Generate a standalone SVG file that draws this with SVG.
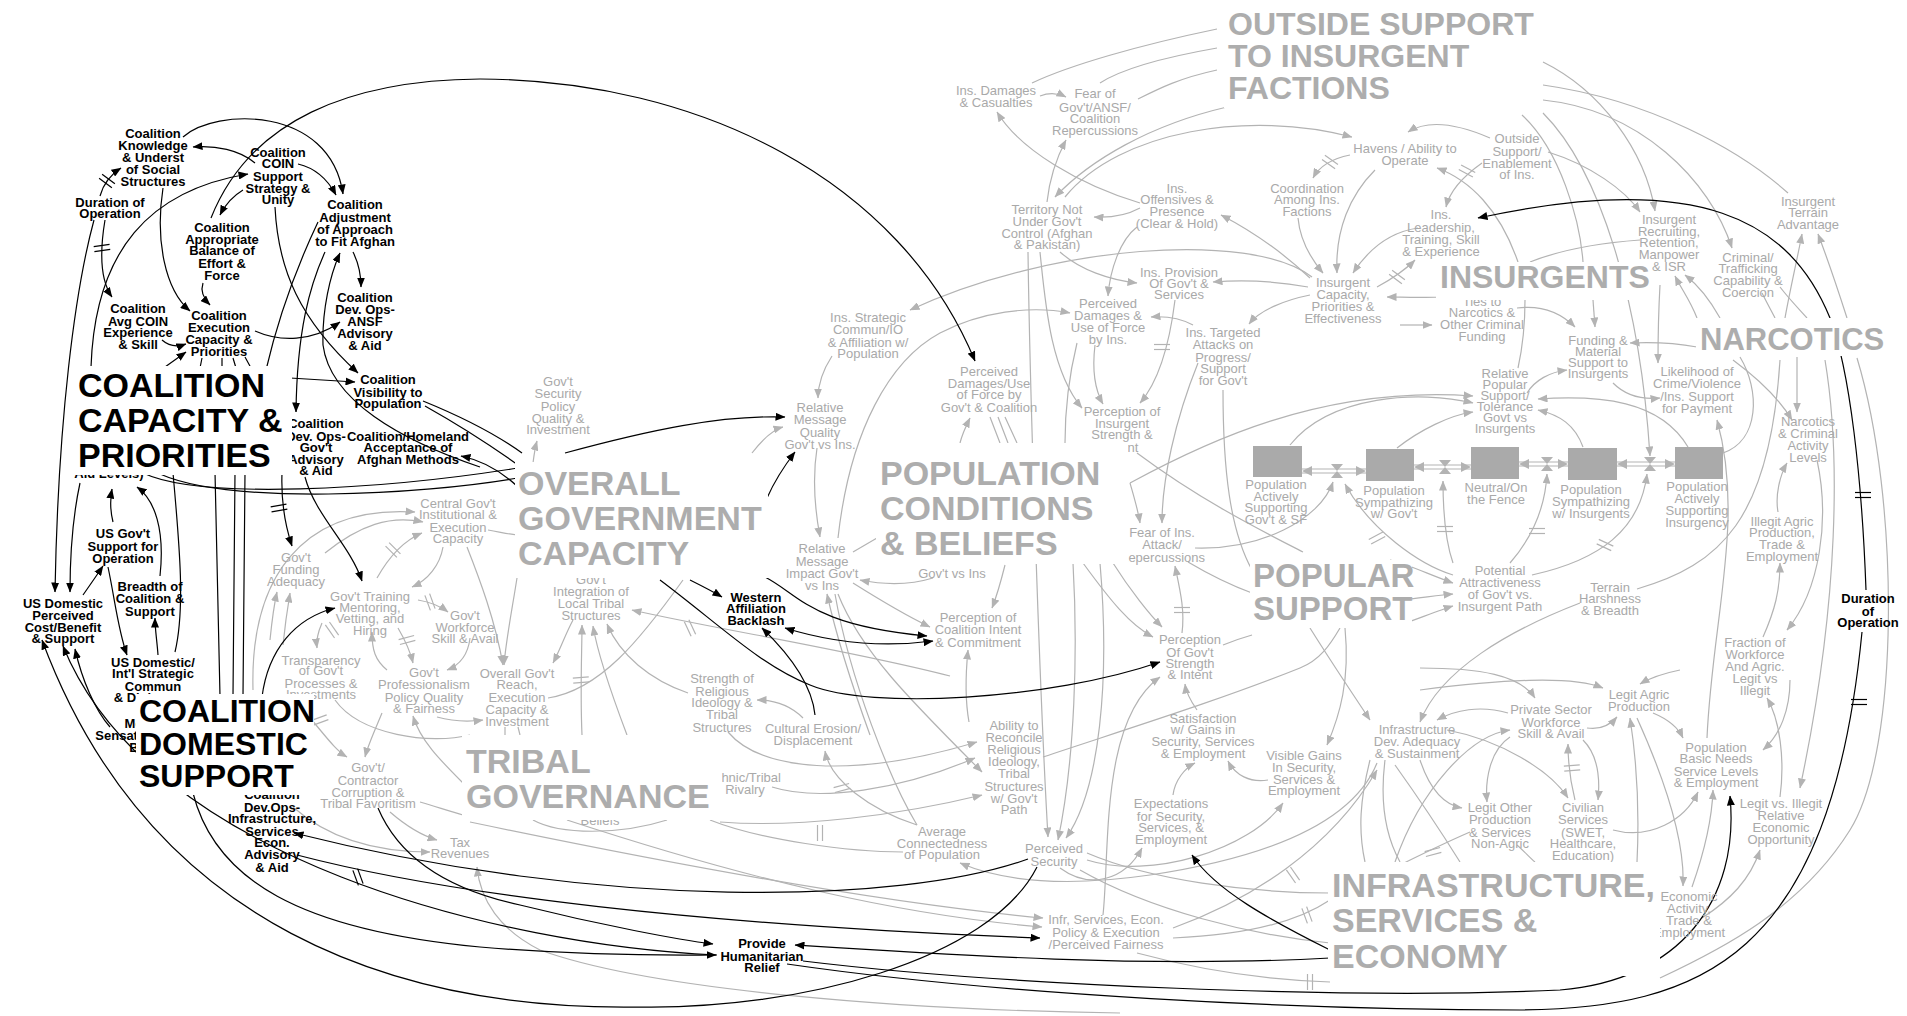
<svg xmlns="http://www.w3.org/2000/svg" width="1907" height="1016" viewBox="0 0 1907 1016">
<defs>
<style>
text{font-family:"Liberation Sans",Arial,Helvetica,sans-serif}
.n{font-size:13px;fill:#a9a9a9;text-anchor:middle}
.b{font-size:13px;font-weight:bold;fill:#000;text-anchor:middle}
.tk{font-weight:bold;fill:#000}
.tg{font-weight:bold;fill:#adadad}
.g{fill:none;stroke:#b3b3b3;stroke-width:1.2}
.k{fill:none;stroke:#000;stroke-width:1.2}
.ga{marker-end:url(#ag)}
.ka{marker-end:url(#ak)}
.ks{marker-start:url(#ak)}
.hg{stroke:#b3b3b3;stroke-width:1.2}
.hk{stroke:#000;stroke-width:1.2}
.box{fill:#fff}
.stock{fill:#aaaaaa}
.pipe{stroke:#b3b3b3;stroke-width:1.2}
</style>
<marker id="ag" viewBox="0 0 10 8" refX="9.5" refY="4" markerWidth="10" markerHeight="8" markerUnits="userSpaceOnUse" orient="auto-start-reverse"><path d="M0,0L10,4L0,8z" fill="#b3b3b3"/></marker>
<marker id="ak" viewBox="0 0 10 8" refX="9.5" refY="4" markerWidth="10" markerHeight="8" markerUnits="userSpaceOnUse" orient="auto-start-reverse"><path d="M0,0L10,4L0,8z" fill="#000"/></marker>
<g id="hs"><line x1="-8" y1="-2.5" x2="8" y2="-2.5"/><line x1="-8" y1="2.5" x2="8" y2="2.5"/></g>
</defs>
<rect width="1907" height="1016" fill="#fff"/>

<g id="connectors">
<g id="grey-links">
<path class="g" d="M1217,29 C1140,45 1070,65 1032,83"/>
<path class="g" d="M1217,48 C1160,58 1120,70 1100,83"/>
<path class="g" d="M1217,70 C1180,78 1160,88 1138,99"/>
<path class="g ga" d="M1227,107 C1150,125 1090,160 1055,197"/>
<path class="g ga" d="M1065,197 C1120,130 1250,110 1352,137"/>
<path class="g ga" d="M1040,96 C1050,92 1058,93 1066,97"/>
<path class="g ga" d="M1047,202 C1050,175 1058,155 1066,140"/>
<path class="g ga" d="M1140,203 C1080,185 1020,150 997,112"/>
<path class="g ga" d="M1140,208 C1125,216 1110,218 1094,217"/>
<path class="g ga" d="M1350,155 C1335,158 1320,165 1313,178"/>
<path class="g ga" d="M1375,170 C1350,195 1335,230 1337,273"/>
<path class="g ga" d="M1298,218 C1300,240 1312,260 1323,273"/>
<path class="g ga" d="M1310,278 C1280,250 1250,230 1221,215"/>
<path class="g ga" d="M1308,287 C1270,280 1240,280 1213,282"/>
<path class="g ga" d="M1310,295 C1285,300 1260,310 1249,324"/>
<path class="g ga" d="M1060,252 C1080,270 1110,280 1137,283"/>
<path class="g ga" d="M1137,227 C1120,240 1110,270 1108,296"/>
<path class="g ga" d="M1193,325 C1180,318 1165,316 1151,317"/>
<path class="g ga" d="M1312,277 C1250,230 1050,245 910,310"/>
<path class="g ga" d="M838,538 C850,430 890,360 940,333 C980,312 1030,305 1070,313"/>
<path class="g ga" d="M1418,228 C1390,232 1368,250 1353,273"/>
<path class="g ga" d="M1377,287 C1390,280 1405,270 1415,260"/>
<path class="g ga" d="M1440,297 C1420,298 1400,297 1387,297"/>
<path class="g ga" d="M1482,163 C1465,175 1450,190 1446,207"/>
<path class="g ga" d="M1490,138 C1460,125 1430,118 1408,132"/>
<path class="g ga" d="M1548,152 C1590,165 1625,190 1640,212"/>
<path class="g ga" d="M1543,62 C1600,90 1645,150 1655,211"/>
<path class="g" d="M1543,85 C1650,100 1740,150 1788,193"/>
<path class="g ga" d="M1543,100 C1640,110 1710,180 1732,248"/>
<path class="g" d="M1522,115 C1560,150 1580,220 1583,262"/>
<path class="g ga" d="M1543,113 C1600,170 1640,300 1650,456"/>
<path class="g ga" d="M1518,262 C1500,210 1470,180 1437,168"/>
<path class="g" d="M1640,240 C1600,243 1560,250 1530,262"/>
<path class="g ga" d="M1785,318 C1790,290 1797,260 1802,234"/>
<path class="g ga" d="M1847,318 C1838,290 1828,260 1818,234"/>
<path class="g ga" d="M1697,318 C1690,300 1682,290 1675,276"/>
<path class="g ga" d="M1720,318 C1710,300 1698,285 1685,275"/>
<path class="g" d="M1780,287 C1790,300 1800,310 1807,318"/>
<path class="g" d="M1762,293 C1768,305 1772,312 1775,318"/>
<path class="g ga" d="M1517,308 C1540,305 1560,312 1575,327"/>
<path class="g ga" d="M1593,300 L1595,327"/>
<path class="g ga" d="M1400,325 L1432,325"/>
<path class="g" d="M1525,300 C1525,330 1522,350 1518,368"/>
<path class="g ga" d="M1697,347 C1670,342 1650,342 1630,343"/>
<path class="g ga" d="M1527,393 C1535,380 1550,372 1567,370"/>
<path class="g ga" d="M1613,383 C1625,395 1640,400 1660,398"/>
<path class="g ga" d="M1688,447 C1660,400 1600,395 1538,399"/>
<path class="g ga" d="M1583,447 C1575,425 1560,415 1538,410"/>
<path class="g" d="M1723,453 C1760,440 1760,390 1740,357"/>
<path class="g ga" d="M1660,285 C1658,320 1658,340 1658,363"/>
<path class="g ga" d="M1707,738 C1712,620 1745,520 1717,420"/>
<path class="g ga" d="M1733,360 C1760,380 1780,400 1792,420"/>
<path class="g ga" d="M1797,357 L1797,412"/>
<path class="g ga" d="M1778,512 C1775,495 1780,475 1787,463"/>
<path class="g ga" d="M1817,460 C1830,520 1820,590 1787,630"/>
<path class="g ga" d="M1763,637 C1775,610 1780,590 1780,563"/>
<path class="g" d="M1637,589 C1720,565 1770,520 1780,360"/>
<path class="g ga" d="M1580,603 C1510,630 1440,670 1420,722"/>
<path class="g ga" d="M1453,563 C1445,540 1443,510 1443,481"/>
<path class="g ga" d="M1510,563 C1530,540 1545,510 1547,474"/>
<path class="g ga" d="M1532,575 C1600,560 1640,530 1647,474"/>
<path class="g ga" d="M1453,575 C1420,565 1370,530 1345,484"/>
<path class="g ga" d="M1390,560 C1410,565 1430,575 1453,583"/>
<path class="g ga" d="M1400,600 C1420,598 1440,595 1453,594"/>
<path class="g ga" d="M1400,625 C1420,618 1440,610 1453,606"/>
<path class="g ga" d="M1195,548 C1260,550 1320,520 1333,482"/>
<path class="g ga" d="M1290,445 C1330,395 1420,390 1473,403"/>
<path class="g ga" d="M1397,448 C1420,430 1450,415 1473,412"/>
<path class="g ga" d="M1130,483 C1200,445 1320,385 1473,396"/>
<path class="g" d="M1137,453 C1200,500 1260,530 1303,552"/>
<path class="g" d="M1223,390 C1223,470 1230,530 1252,570"/>
<path class="g" d="M1188,562 C1210,575 1230,585 1252,593"/>
<path class="g ga" d="M1182,633 C1185,610 1180,590 1175,566"/>
<path class="g ga" d="M1113,563 C1130,590 1150,615 1162,627"/>
<path class="g ga" d="M1083,563 C1110,600 1130,625 1153,637"/>
<path class="g" d="M1223,645 C1235,640 1245,637 1252,635"/>
<path class="g ga" d="M1095,345 C1092,370 1095,390 1103,404"/>
<path class="g ga" d="M1040,252 C1045,300 1050,370 1082,408"/>
<path class="g ga" d="M1028,252 C1030,400 1040,700 1048,837"/>
<path class="g ga" d="M1073,563 C1078,650 1075,760 1058,840"/>
<path class="g ga" d="M1100,563 C1110,680 1100,790 1066,838"/>
<path class="g ga" d="M1175,300 C1170,340 1160,380 1140,403"/>
<path class="g ga" d="M1198,363 C1175,420 1162,480 1162,523"/>
<path class="g ga" d="M1130,483 C1135,500 1138,510 1140,523"/>
<path class="g ga" d="M960,443 C962,435 965,428 970,418"/>
<path class="g" d="M990,417 L1000,443 M998,417 L1008,443 M1005,417 L1017,443"/>
<path class="g ga" d="M969,722 C965,700 966,670 968,650"/>
<path class="g ga" d="M1005,565 C1000,585 996,598 992,608"/>
<path class="g" d="M1077,343 C1068,380 1065,410 1065,443"/>
<path class="g" d="M1087,853 C1150,880 1250,893 1330,893"/>
<path class="g ga" d="M1060,868 C1090,890 1125,880 1142,848"/>
<path class="g" d="M1080,870 C1150,910 1250,935 1330,943"/>
<path class="g ga" d="M1173,795 C1175,780 1185,768 1195,763"/>
<path class="g ga" d="M1268,780 C1250,783 1235,775 1228,761"/>
<path class="g ga" d="M1197,710 C1190,700 1186,692 1185,684"/>
<path class="g ga" d="M1345,628 C1350,680 1340,715 1327,745"/>
<path class="g ga" d="M1310,628 C1330,660 1350,690 1370,720"/>
<path class="g ga" d="M1173,928 C1250,900 1330,850 1377,770"/>
<path class="g" d="M1173,938 C1250,935 1300,920 1330,900"/>
<path class="g ga" d="M1103,915 C1110,850 1100,720 1160,677"/>
<path class="g" d="M1137,953 C1200,970 1270,980 1330,982"/>
<path class="g ga" d="M470,822 C700,870 900,905 1043,918"/>
<path class="g ga" d="M567,820 C750,880 900,915 1042,927"/>
<path class="g" d="M1043,757 C1130,728 1220,700 1300,668 C1320,660 1330,645 1340,628"/>
<path class="g ga" d="M728,732 C760,770 850,780 977,742"/>
<path class="g ga" d="M772,787 C820,802 900,790 975,758"/>
<path class="g ga" d="M720,822 C800,828 900,815 982,795"/>
<path class="g ga" d="M838,594 C860,650 910,700 982,772"/>
<path class="g ga" d="M1377,763 C1350,830 1250,860 1150,875 C1060,888 1000,880 960,863"/>
<path class="g ga" d="M1087,860 C1150,880 1250,850 1283,803"/>
<path class="g" d="M835,594 C850,680 890,780 917,825"/>
<path class="g ga" d="M917,825 C870,810 830,780 825,751"/>
<path class="g ga" d="M803,718 C790,705 775,700 757,700"/>
<path class="g ga" d="M688,693 C650,680 620,655 607,624"/>
<path class="g ga" d="M950,676 C850,650 720,630 632,610"/>
<path class="g" d="M710,820 C760,840 850,852 903,852"/>
<path class="g" d="M533,820 C560,835 620,835 667,820"/>
<path class="g ga" d="M1120,1013 C900,1010 650,990 540,950 C500,930 480,900 477,867"/>
<path class="g ga" d="M390,812 C405,825 420,835 437,840"/>
<path class="g" d="M420,802 C440,808 452,812 463,815"/>
<path class="g ga" d="M293,807 C330,840 380,852 430,852"/>
<path class="g ga" d="M305,712 C325,735 335,750 347,757"/>
<path class="g ga" d="M382,713 C375,730 368,745 365,757"/>
<path class="g" d="M335,700 C360,735 430,745 470,735"/>
<path class="g ga" d="M463,783 C440,760 420,740 413,716"/>
<path class="g ga" d="M437,717 C455,722 468,722 483,720"/>
<path class="g ga" d="M325,553 C360,525 390,515 423,522"/>
<path class="g ga" d="M253,690 C250,580 300,505 415,512"/>
<path class="g ga" d="M377,578 C390,555 405,540 422,533"/>
<path class="g ga" d="M443,547 C440,565 428,580 412,587"/>
<path class="g ga" d="M418,600 C430,602 440,606 448,612"/>
<path class="g ga" d="M322,623 C318,632 316,640 317,648"/>
<path class="g ga" d="M398,628 C405,640 410,650 413,663"/>
<path class="g ga" d="M470,638 C468,655 460,665 447,670"/>
<path class="g ga" d="M387,670 C375,660 372,650 372,632"/>
<path class="g ga" d="M270,640 C272,620 274,605 277,592"/>
<path class="g ga" d="M283,645 C285,625 288,605 290,593"/>
<path class="g ga" d="M467,547 C480,580 495,620 503,665"/>
<path class="g" d="M488,530 C500,532 508,534 517,535"/>
<path class="g ga" d="M517,578 C512,610 506,640 504,665"/>
<path class="g ga" d="M533,463 C534,455 535,448 537,441"/>
<path class="g ga" d="M573,620 C565,635 560,650 553,663"/>
<path class="g" d="M548,698 C600,690 640,640 683,580"/>
<path class="g ga" d="M582,735 C580,690 582,650 582,625"/>
<path class="g ga" d="M627,735 C610,690 597,650 593,626"/>
<path class="g" d="M505,727 L505,735 M518,727 L520,735"/>
<path class="g ga" d="M832,356 C823,370 818,385 818,398"/>
<path class="g ga" d="M752,453 C762,440 772,430 783,427"/>
<path class="g ga" d="M817,448 C812,480 815,510 820,537"/>
<path class="g" d="M853,552 L877,538"/>
<path class="g ga" d="M933,578 C910,585 885,585 860,580"/>
<path class="g ga" d="M853,583 C880,600 905,615 930,627"/>
<path class="g ga" d="M870,735 C850,680 835,630 827,594"/>
<path class="g ga" d="M1825,360 C1840,450 1840,600 1800,788"/>
<path class="g" d="M1857,358 C1900,500 1900,750 1850,830 C1800,910 1720,950 1660,978"/>
<path class="g ga" d="M1790,680 C1790,710 1780,735 1763,750"/>
<path class="g ga" d="M1780,797 C1785,760 1780,720 1767,698"/>
<path class="g ga" d="M1702,918 C1730,900 1750,880 1760,850"/>
<path class="g ga" d="M1692,887 C1705,850 1712,820 1713,790"/>
<path class="g ga" d="M1637,718 C1665,780 1685,840 1683,886"/>
<path class="g ga" d="M1653,713 C1665,718 1677,725 1683,738"/>
<path class="g ga" d="M1613,830 C1650,840 1685,820 1698,792"/>
<path class="g ga" d="M1587,728 C1600,730 1610,725 1617,717"/>
<path class="g ga" d="M1583,740 C1598,755 1600,780 1598,800"/>
<path class="g ga" d="M1575,800 C1570,780 1568,760 1568,744"/>
<path class="g ga" d="M1510,737 C1490,750 1485,780 1487,802"/>
<path class="g ga" d="M1508,713 C1480,705 1455,710 1437,720"/>
<path class="g ga" d="M1447,730 C1500,740 1550,770 1568,798"/>
<path class="g ga" d="M1420,760 C1430,790 1445,805 1462,808"/>
<path class="g ga" d="M1395,862 C1420,790 1470,735 1510,730"/>
<path class="g ga" d="M1420,668 C1480,668 1520,675 1535,698"/>
<path class="g ga" d="M1420,690 C1500,680 1570,675 1603,688"/>
<path class="g ga" d="M1637,862 C1640,800 1635,750 1630,718"/>
<path class="g ga" d="M1680,670 C1665,673 1650,678 1640,684"/>
<path class="g" d="M1517,845 C1525,852 1530,858 1535,862"/>
<path class="g" d="M1370,760 C1360,800 1358,830 1365,862 M1385,760 C1380,800 1385,835 1400,862"/>
<path class="g" d="M1395,765 C1420,800 1440,830 1460,862"/>
<path class="g" d="M1390,870 C1420,855 1440,845 1470,832"/>
</g>
<g id="black-links">
<path class="k ka" d="M183,137 C215,108 330,105 343,194"/>
<path class="k ka" d="M255,163 C240,150 215,145 193,147"/>
<path class="k ka" d="M298,164 C315,168 328,180 336,195"/>
<path class="k ka" d="M100,196 C103,185 110,175 121,168"/>
<path class="k ka" d="M91,367 C95,250 150,190 248,174"/>
<path class="k ka" d="M94,220 C75,290 58,420 55,592"/>
<path class="k ka" d="M105,220 C100,250 100,280 112,297"/>
<path class="k ka" d="M243,190 C233,196 225,205 220,215"/>
<path class="k ka" d="M203,283 C200,292 205,300 210,305"/>
<path class="k ka" d="M163,188 C155,240 165,290 190,311"/>
<path class="k ka" d="M211,218 C250,120 350,80 480,79 C700,80 900,180 975,361"/>
<path class="k ka" d="M255,331 C280,342 312,342 340,322"/>
<path class="k ka" d="M353,252 C358,262 361,275 361,287"/>
<path class="k ka" d="M480,467 C400,440 330,400 323,345 C322,310 330,275 340,253"/>
<path class="k" d="M318,222 C300,260 280,310 266,370"/>
<path class="k ka" d="M325,252 C310,285 297,330 296,412"/>
<path class="k ka" d="M275,207 C278,270 300,320 358,373"/>
<path class="k ka" d="M290,378 L355,382"/>
<path class="k" d="M423,401 C450,412 490,430 522,453"/>
<path class="k" d="M425,406 C450,420 490,445 518,465"/>
<path class="k" d="M143,473 C200,500 380,490 518,468"/>
<path class="k" d="M160,474 C230,505 420,495 518,478"/>
<path class="k ka" d="M518,487 C500,470 480,460 461,456"/>
<path class="k ka" d="M305,477 C315,515 350,545 362,581"/>
<path class="k ka" d="M282,473 C281,500 285,525 292,546"/>
<path class="k" d="M215,472 L220,696 M235,472 L233,696 M245,472 L243,696"/>
<path class="k" d="M173,473 C180,550 185,610 175,652"/>
<path class="k ka" d="M113,522 C110,510 110,500 112,489"/>
<path class="k ka" d="M160,576 C165,530 155,500 137,487"/>
<path class="k ka" d="M80,483 C72,520 70,560 70,592"/>
<path class="k ka" d="M83,595 C90,585 97,575 103,566"/>
<path class="k ka" d="M108,567 C115,600 118,630 127,655"/>
<path class="k ka" d="M158,655 C157,640 155,630 155,618"/>
<path class="k ka" d="M1037,867 C990,960 800,1010 637,1007 C400,1010 150,930 42,640"/>
<path class="k ka" d="M717,955 C500,945 150,860 63,646"/>
<path class="k ka" d="M110,727 C95,710 82,680 75,649"/>
<path class="k ka" d="M193,793 C215,880 300,930 480,947 C600,957 680,955 716,955"/>
<path class="k ka" d="M378,808 C400,860 450,890 520,905 C600,925 680,940 713,944"/>
<path class="k ka" d="M297,855 C450,895 700,925 1040,938"/>
<path class="k ka" d="M1028,859 C900,905 600,910 294,833"/>
<path class="k ka" d="M1330,958 C1150,968 950,955 795,945"/>
<path class="k ka" d="M803,961 C1000,985 1350,1000 1560,990 C1680,980 1740,900 1730,796"/>
<path class="k" d="M787,964 C1000,995 1300,1010 1520,1010 C1700,1008 1830,960 1862,632"/>
<path class="k ka" d="M1866,590 C1862,480 1850,370 1830,318 C1790,220 1700,170 1478,218"/>
<path class="k ka" d="M1330,950 C1270,920 1215,890 1192,855"/>
<path class="k ka" d="M262,697 C268,650 295,618 335,608"/>
<path class="k ka" d="M565,453 C650,430 720,415 785,417"/>
<path class="k ka" d="M767,498 C775,480 785,465 795,452"/>
<path class="k ka" d="M690,580 C700,585 712,591 722,597"/>
<path class="k ka" d="M765,577 C800,595 810,625 927,636"/>
<path class="k ka ks" d="M785,628 C830,642 880,648 933,641"/>
<path class="k ka" d="M815,715 C812,685 790,655 762,628"/>
<path class="k ka" d="M660,580 C720,625 760,665 810,685 C870,710 1050,700 1160,662"/>
<path class="k ka" d="M162,340 C170,347 178,347 186,344"/>
<path class="k ka" d="M165,367 L186,352"/>
<path class="k" d="M202,358 L200,368 M222,358 L222,368 M233,358 L236,368 M245,357 L251,368"/>
</g>
<g id="delay-marks">
<use href="#hs" class="hk" transform="translate(107,181) rotate(37)"/>
<use href="#hs" class="hk" transform="translate(102,248) rotate(-8)"/>
<use href="#hs" class="hk" transform="translate(279,508) rotate(-10)"/>
<use href="#hs" class="hk" transform="translate(358,877) rotate(70)"/>
<use href="#hs" class="hk" transform="translate(1863,495) rotate(0)"/>
<use href="#hs" class="hk" transform="translate(1859,702) rotate(0)"/>
<use href="#hs" class="hg" transform="translate(1330,162) rotate(35)"/>
<use href="#hs" class="hg" transform="translate(1397,277) rotate(37)"/>
<use href="#hs" class="hg" transform="translate(1467,171) rotate(28)"/>
<use href="#hs" class="hg" transform="translate(1162,347) rotate(0)"/>
<use href="#hs" class="hg" transform="translate(1182,610) rotate(0)"/>
<use href="#hs" class="hg" transform="translate(1445,529) rotate(0)"/>
<use href="#hs" class="hg" transform="translate(1537,531) rotate(0)"/>
<use href="#hs" class="hg" transform="translate(1605,545) rotate(25)"/>
<use href="#hs" class="hg" transform="translate(1377,538) rotate(-28)"/>
<use href="#hs" class="hg" transform="translate(1293,875) rotate(55)"/>
<use href="#hs" class="hg" transform="translate(1307,915) rotate(70)"/>
<use href="#hs" class="hg" transform="translate(1310,982) rotate(90)"/>
<use href="#hs" class="hg" transform="translate(842,788) rotate(-15)"/>
<use href="#hs" class="hg" transform="translate(820,833) rotate(90)"/>
<use href="#hs" class="hg" transform="translate(393,550) rotate(45)"/>
<use href="#hs" class="hg" transform="translate(430,602) rotate(70)"/>
<use href="#hs" class="hg" transform="translate(332,630) rotate(55)"/>
<use href="#hs" class="hg" transform="translate(407,640) rotate(-15)"/>
<use href="#hs" class="hg" transform="translate(320,720) rotate(-20)"/>
<use href="#hs" class="hg" transform="translate(1572,768) rotate(-5)"/>
<use href="#hs" class="hg" transform="translate(1433,852) rotate(-15)"/>
<use href="#hs" class="hg" transform="translate(690,628) rotate(65)"/>
<use href="#hs" class="hg" transform="translate(581,680) rotate(-5)"/>
</g>
<g id="flows">
<line class="pipe" x1="1302" y1="469" x2="1366" y2="469"/><line class="pipe" x1="1302" y1="473" x2="1366" y2="473"/>
<line class="pipe" x1="1414" y1="465" x2="1471" y2="465"/><line class="pipe" x1="1414" y1="469" x2="1471" y2="469"/>
<line class="pipe" x1="1519" y1="462" x2="1568" y2="462"/><line class="pipe" x1="1519" y1="466" x2="1568" y2="466"/>
<line class="pipe" x1="1617" y1="462" x2="1675" y2="462"/><line class="pipe" x1="1617" y1="466" x2="1675" y2="466"/>
<g fill="#b3b3b3">
<path d="M1302,471 l10,-5 v10z M1366,471 l-10,-5 v10z M1337,471 l-6,-7 h12z M1337,471 l-6,7 h12z"/>
<path d="M1414,467 l10,-5 v10z M1471,467 l-10,-5 v10z M1445,467 l-6,-7 h12z M1445,467 l-6,7 h12z"/>
<path d="M1519,464 l10,-5 v10z M1568,464 l-10,-5 v10z M1547,464 l-6,-7 h12z M1547,464 l-6,7 h12z"/>
<path d="M1617,464 l10,-5 v10z M1675,464 l-10,-5 v10z M1650,464 l-6,-7 h12z M1650,464 l-6,7 h12z"/>
</g>
</g>
</g>

<g id="stocks">
<rect class="stock" x="1253" y="446" width="49" height="31"/>
<rect class="stock" x="1366" y="449" width="48" height="32"/>
<rect class="stock" x="1471" y="447" width="48" height="32"/>
<rect class="stock" x="1568" y="448" width="49" height="32"/>
<rect class="stock" x="1675" y="447" width="48" height="32"/>
</g>

<g id="nodes">
<g id="n-knowledge"><text class="b"><tspan x="153" y="138">Coalition</tspan><tspan x="153" y="150">Knowledge</tspan><tspan x="153" y="162">&amp; Underst</tspan><tspan x="153" y="174">of Social</tspan><tspan x="153" y="186">Structures</tspan></text></g>
<g id="n-coin"><text class="b"><tspan x="278" y="157">Coalition</tspan><tspan x="278" y="168">COIN</tspan><tspan x="278" y="181">Support</tspan><tspan x="278" y="193">Strategy &amp;</tspan><tspan x="278" y="204">Unity</tspan></text></g>
<g id="n-duration1"><text class="b"><tspan x="110" y="207">Duration of</tspan><tspan x="110" y="218">Operation</tspan></text></g>
<g id="n-adjust"><text class="b"><tspan x="355" y="209">Coalition</tspan><tspan x="355" y="222">Adjustment</tspan><tspan x="355" y="234">of Approach</tspan><tspan x="355" y="246">to Fit Afghan</tspan></text></g>
<g id="n-balance"><text class="b"><tspan x="222" y="232">Coalition</tspan><tspan x="222" y="244">Appropriate</tspan><tspan x="222" y="255">Balance of</tspan><tspan x="222" y="268">Effort &amp;</tspan><tspan x="222" y="280">Force</tspan></text></g>
<g id="n-ansf"><text class="b"><tspan x="365" y="302">Coalition</tspan><tspan x="365" y="314">Dev. Ops-</tspan><tspan x="365" y="326">ANSF</tspan><tspan x="365" y="338">Advisory</tspan><tspan x="365" y="350">&amp; Aid</tspan></text></g>
<g id="n-avgcoin"><text class="b"><tspan x="138" y="313">Coalition</tspan><tspan x="138" y="326">Avg COIN</tspan><tspan x="138" y="337">Experience</tspan><tspan x="138" y="349">&amp; Skill</tspan></text></g>
<g id="n-execution"><text class="b"><tspan x="219" y="320">Coalition</tspan><tspan x="219" y="332">Execution</tspan><tspan x="219" y="344">Capacity &amp;</tspan><tspan x="219" y="356">Priorities</tspan></text></g>
<g id="n-visibility"><text class="b"><tspan x="388" y="384">Coalition</tspan><tspan x="388" y="397">Visibility to</tspan><tspan x="388" y="408">Population</tspan></text></g>
<g id="n-govadvisory"><text class="b"><tspan x="316" y="428">Coalition</tspan><tspan x="316" y="441">Dev. Ops-</tspan><tspan x="316" y="452">Gov't</tspan><tspan x="316" y="464">Advisory</tspan><tspan x="316" y="475">&amp; Aid</tspan></text></g>
<g id="n-homeland"><text class="b"><tspan x="408" y="441">Coalition/Homeland</tspan><tspan x="408" y="452">Acceptance of</tspan><tspan x="408" y="464">Afghan Methods</tspan></text></g>
<g id="n-aidlevels"><text class="b"><tspan x="109" y="478">Aid Levels)</tspan></text></g>
<g id="n-usgov"><text class="b"><tspan x="123" y="538">US Gov't</tspan><tspan x="123" y="551">Support for</tspan><tspan x="123" y="563">Operation</tspan></text></g>
<g id="n-breadth"><text class="b"><tspan x="150" y="591">Breadth of</tspan><tspan x="150" y="603">Coalition &amp;</tspan><tspan x="150" y="616">Support</tspan></text></g>
<g id="n-usdomestic"><text class="b"><tspan x="63" y="608">US Domestic</tspan><tspan x="63" y="620">Perceived</tspan><tspan x="63" y="632">Cost/Benefit</tspan><tspan x="63" y="643">&amp; Support</tspan></text></g>
<g id="n-usintl"><text class="b"><tspan x="153" y="667">US Domestic/</tspan><tspan x="153" y="678">Int'l Strategic</tspan><tspan x="153" y="691">Commun</tspan><tspan x="153" y="702">&amp; Diplomacy</tspan></text></g>
<g id="n-media"><text class="b"><tspan x="143" y="728">Media</tspan><tspan x="143" y="740">Sensationalism</tspan><tspan x="143" y="752">Bias</tspan></text></g>
<g id="n-coaldevinfra"><text class="b"><tspan x="272" y="799">Coalition</tspan><tspan x="272" y="812">Dev.Ops-</tspan><tspan x="272" y="823">Infrastructure,</tspan><tspan x="272" y="836">Services</tspan><tspan x="272" y="847">Econ.</tspan><tspan x="272" y="859">Advisory</tspan><tspan x="272" y="872">&amp; Aid</tspan></text></g>
<g id="n-western"><text class="b"><tspan x="756" y="602">Western</tspan><tspan x="756" y="613">Affiliation</tspan><tspan x="756" y="625">Backlash</tspan></text></g>
<g id="n-provide"><text class="b"><tspan x="762" y="948">Provide</tspan><tspan x="762" y="961">Humanitarian</tspan><tspan x="762" y="972">Relief</tspan></text></g>
<g id="n-duration2"><text class="b"><tspan x="1868" y="603">Duration</tspan><tspan x="1868" y="616">of</tspan><tspan x="1868" y="627">Operation</tspan></text></g>

<g id="n-insstrat"><text class="n"><tspan x="868" y="322">Ins. Strategic</tspan><tspan x="868" y="334">Commun/IO</tspan><tspan x="868" y="347">&amp; Affiliation w/</tspan><tspan x="868" y="358">Population</tspan></text></g>
<g id="n-insdamages"><text class="n"><tspan x="996" y="95">Ins. Damages</tspan><tspan x="996" y="107">&amp; Casualties</tspan></text></g>
<g id="n-fear"><text class="n"><tspan x="1095" y="98">Fear of</tspan><tspan x="1095" y="112">Gov't/ANSF/</tspan><tspan x="1095" y="123">Coalition</tspan><tspan x="1095" y="135">Repercussions</tspan></text></g>
<g id="n-havens"><text class="n"><tspan x="1405" y="153">Havens / Ability to</tspan><tspan x="1405" y="165">Operate</tspan></text></g>
<g id="n-coord"><text class="n"><tspan x="1307" y="193">Coordination</tspan><tspan x="1307" y="204">Among Ins.</tspan><tspan x="1307" y="216">Factions</tspan></text></g>
<g id="n-territory"><text class="n"><tspan x="1047" y="214">Territory Not</tspan><tspan x="1047" y="226">Under Gov't</tspan><tspan x="1047" y="238">Control (Afghan</tspan><tspan x="1047" y="249">&amp; Pakistan)</tspan></text></g>
<g id="n-offensives"><text class="n"><tspan x="1177" y="193">Ins.</tspan><tspan x="1177" y="204">Offensives &amp;</tspan><tspan x="1177" y="216">Presence</tspan><tspan x="1177" y="228">(Clear &amp; Hold)</tspan></text></g>
<g id="n-provision"><text class="n"><tspan x="1179" y="277">Ins. Provision</tspan><tspan x="1179" y="288">Of Gov't &amp;</tspan><tspan x="1179" y="299">Services</tspan></text></g>
<g id="n-inscap"><text class="n"><tspan x="1343" y="287">Insurgent</tspan><tspan x="1343" y="299">Capacity,</tspan><tspan x="1343" y="311">Priorities &amp;</tspan><tspan x="1343" y="323">Effectiveness</tspan></text></g>
<g id="n-percdamins"><text class="n"><tspan x="1108" y="308">Perceived</tspan><tspan x="1108" y="320">Damages &amp;</tspan><tspan x="1108" y="332">Use of Force</tspan><tspan x="1108" y="344">by Ins.</tspan></text></g>
<g id="n-targeted"><text class="n"><tspan x="1223" y="337">Ins. Targeted</tspan><tspan x="1223" y="349">Attacks on</tspan><tspan x="1223" y="362">Progress/</tspan><tspan x="1223" y="373">Support</tspan><tspan x="1223" y="385">for Gov't</tspan></text></g>
<g id="n-outsupp"><text class="n"><tspan x="1517" y="143">Outside</tspan><tspan x="1517" y="156">Support/</tspan><tspan x="1517" y="168">Enablement</tspan><tspan x="1517" y="179">of Ins.</tspan></text></g>
<g id="n-leadership"><text class="n"><tspan x="1441" y="219">Ins.</tspan><tspan x="1441" y="232">Leadership,</tspan><tspan x="1441" y="244">Training, Skill</tspan><tspan x="1441" y="256">&amp; Experience</tspan></text></g>
<g id="n-recruit"><text class="n"><tspan x="1669" y="224">Insurgent</tspan><tspan x="1669" y="236">Recruiting,</tspan><tspan x="1669" y="247">Retention,</tspan><tspan x="1669" y="259">Manpower</tspan><tspan x="1669" y="271">&amp; ISR</tspan></text></g>
<g id="n-criminal"><text class="n"><tspan x="1748" y="262">Criminal/</tspan><tspan x="1748" y="273">Trafficking</tspan><tspan x="1748" y="285">Capability &amp;</tspan><tspan x="1748" y="297">Coercion</tspan></text></g>
<g id="n-terrainadv"><text class="n"><tspan x="1808" y="206">Insurgent</tspan><tspan x="1808" y="217">Terrain</tspan><tspan x="1808" y="229">Advantage</tspan></text></g>
<g id="n-ties"><text class="n"><tspan x="1482" y="306">Ties to</tspan><tspan x="1482" y="317">Narcotics &amp;</tspan><tspan x="1482" y="329">Other Criminal</tspan><tspan x="1482" y="341">Funding</tspan></text></g>
<g id="n-funding"><text class="n"><tspan x="1598" y="345">Funding &amp;</tspan><tspan x="1598" y="356">Material</tspan><tspan x="1598" y="367">Support to</tspan><tspan x="1598" y="378">Insurgents</tspan></text></g>
<g id="n-relpop"><text class="n"><tspan x="1505" y="378">Relative</tspan><tspan x="1505" y="389">Popular</tspan><tspan x="1505" y="400">Support/</tspan><tspan x="1505" y="411">Tolerance</tspan><tspan x="1505" y="422">Govt vs</tspan><tspan x="1505" y="433">Insurgents</tspan></text></g>
<g id="n-likelihood"><text class="n"><tspan x="1697" y="376">Likelihood of</tspan><tspan x="1697" y="388">Crime/Violence</tspan><tspan x="1697" y="401">/Ins. Support</tspan><tspan x="1697" y="413">for Payment</tspan></text></g>
<g id="n-narccrim"><text class="n"><tspan x="1808" y="426">Narcotics</tspan><tspan x="1808" y="438">&amp; Criminal</tspan><tspan x="1808" y="450">Activity</tspan><tspan x="1808" y="462">Levels</tspan></text></g>
<g id="n-pactgov"><text class="n"><tspan x="1276" y="489">Population</tspan><tspan x="1276" y="501">Actively</tspan><tspan x="1276" y="512">Supporting</tspan><tspan x="1276" y="524">Gov't &amp; SF</tspan></text></g>
<g id="n-psympgov"><text class="n"><tspan x="1394" y="495">Population</tspan><tspan x="1394" y="507">Sympathizing</tspan><tspan x="1394" y="518">w/ Gov't</tspan></text></g>
<g id="n-neutral"><text class="n"><tspan x="1496" y="492">Neutral/On</tspan><tspan x="1496" y="504">the Fence</tspan></text></g>
<g id="n-psympins"><text class="n"><tspan x="1591" y="494">Population</tspan><tspan x="1591" y="506">Sympathizing</tspan><tspan x="1591" y="518">w/ Insurgents</tspan></text></g>
<g id="n-pactins"><text class="n"><tspan x="1697" y="491">Population</tspan><tspan x="1697" y="503">Actively</tspan><tspan x="1697" y="515">Supporting</tspan><tspan x="1697" y="527">Insurgency</tspan></text></g>
<g id="n-potential"><text class="n"><tspan x="1500" y="575">Potential</tspan><tspan x="1500" y="587">Attractiveness</tspan><tspan x="1500" y="599">of Gov't vs.</tspan><tspan x="1500" y="611">Insurgent Path</tspan></text></g>
<g id="n-terrainh"><text class="n"><tspan x="1610" y="592">Terrain</tspan><tspan x="1610" y="603">Harshness</tspan><tspan x="1610" y="615">&amp; Breadth</tspan></text></g>
<g id="n-illegit"><text class="n"><tspan x="1782" y="526">Illegit Agric</tspan><tspan x="1782" y="537">Production,</tspan><tspan x="1782" y="549">Trade &amp;</tspan><tspan x="1782" y="561">Employment</tspan></text></g>
<g id="n-fraction"><text class="n"><tspan x="1755" y="647">Fraction of</tspan><tspan x="1755" y="659">Workforce</tspan><tspan x="1755" y="671">And Agric.</tspan><tspan x="1755" y="683">Legit vs</tspan><tspan x="1755" y="695">Illegit</tspan></text></g>
<g id="n-govsec"><text class="n"><tspan x="558" y="386">Gov't</tspan><tspan x="558" y="398">Security</tspan><tspan x="558" y="411">Policy</tspan><tspan x="558" y="423">Quality &amp;</tspan><tspan x="558" y="434">Investment</tspan></text></g>
<g id="n-relqual"><text class="n"><tspan x="820" y="412">Relative</tspan><tspan x="820" y="424">Message</tspan><tspan x="820" y="437">Quality</tspan><tspan x="820" y="449">Gov't vs Ins.</tspan></text></g>
<g id="n-relimpact"><text class="n"><tspan x="822" y="553">Relative</tspan><tspan x="822" y="566">Message</tspan><tspan x="822" y="578">Impact Gov't</tspan><tspan x="822" y="590">vs Ins</tspan></text></g>
<g id="n-integration"><text class="n"><tspan x="591" y="584">Gov't</tspan><tspan x="591" y="596">Integration of</tspan><tspan x="591" y="608">Local Tribal</tspan><tspan x="591" y="620">Structures</tspan></text></g>
<g id="n-central"><text class="n"><tspan x="458" y="508">Central Gov't</tspan><tspan x="458" y="519">Institutional &amp;</tspan><tspan x="458" y="532">Execution</tspan><tspan x="458" y="543">Capacity</tspan></text></g>
<g id="n-govfunding"><text class="n"><tspan x="296" y="562">Gov't</tspan><tspan x="296" y="574">Funding</tspan><tspan x="296" y="586">Adequacy</tspan></text></g>
<g id="n-training"><text class="n"><tspan x="370" y="601">Gov't Training</tspan><tspan x="370" y="612">Mentoring,</tspan><tspan x="370" y="623">Vetting, and</tspan><tspan x="370" y="635">Hiring</tspan></text></g>
<g id="n-workforce"><text class="n"><tspan x="465" y="620">Gov't</tspan><tspan x="465" y="632">Workforce</tspan><tspan x="465" y="643">Skill &amp; Avail</tspan></text></g>
<g id="n-transparency"><text class="n"><tspan x="321" y="665">Transparency</tspan><tspan x="321" y="675">of Gov't</tspan><tspan x="321" y="688">Processes &amp;</tspan><tspan x="321" y="699">Investments</tspan></text></g>
<g id="n-professionalism"><text class="n"><tspan x="424" y="677">Gov't</tspan><tspan x="424" y="689">Professionalism</tspan><tspan x="424" y="702">Policy Quality</tspan><tspan x="424" y="713">&amp; Fairness</tspan></text></g>
<g id="n-reach"><text class="n"><tspan x="517" y="678">Overall Gov't</tspan><tspan x="517" y="689">Reach,</tspan><tspan x="517" y="702">Execution</tspan><tspan x="517" y="714">Capacity &amp;</tspan><tspan x="517" y="726">Investment</tspan></text></g>
<g id="n-corruption"><text class="n"><tspan x="368" y="772">Gov't/</tspan><tspan x="368" y="785">Contractor</tspan><tspan x="368" y="797">Corruption &amp;</tspan><tspan x="368" y="808">Tribal Favoritism</tspan></text></g>
<g id="n-tax"><text class="n"><tspan x="460" y="847">Tax</tspan><tspan x="460" y="858">Revenues</tspan></text></g>
<g id="n-strength"><text class="n"><tspan x="722" y="683">Strength of</tspan><tspan x="722" y="696">Religious</tspan><tspan x="722" y="707">Ideology &amp;</tspan><tspan x="722" y="719">Tribal</tspan><tspan x="722" y="732">Structures</tspan></text></g>
<g id="n-erosion"><text class="n"><tspan x="813" y="733">Cultural Erosion/</tspan><tspan x="813" y="745">Displacement</tspan></text></g>
<g id="n-ethnic"><text class="n"><tspan x="745" y="782">Ethnic/Tribal</tspan><tspan x="745" y="794">Rivalry</tspan></text></g>
<g id="n-beliefs"><text class="n"><tspan x="600" y="825">Beliefs</tspan></text></g>
<g id="n-avgconn"><text class="n"><tspan x="942" y="836">Average</tspan><tspan x="942" y="848">Connectedness</tspan><tspan x="942" y="859">of Population</tspan></text></g>
<g id="n-percdamgov"><text class="n"><tspan x="989" y="376">Perceived</tspan><tspan x="989" y="388">Damages/Use</tspan><tspan x="989" y="399">of Force by</tspan><tspan x="989" y="412">Gov't &amp; Coalition</tspan></text></g>
<g id="n-percins"><text class="n"><tspan x="1122" y="416">Perception of</tspan><tspan x="1122" y="428">Insurgent</tspan><tspan x="1122" y="439">Strength &amp;</tspan><tspan x="1122" y="452">Intent</tspan></text></g>
<g id="n-fearins"><text class="n"><tspan x="1162" y="537">Fear of Ins.</tspan><tspan x="1162" y="549">Attack/</tspan><tspan x="1162" y="562">Repercussions</tspan></text></g>
<g id="n-perccoal"><text class="n"><tspan x="978" y="622">Perception of</tspan><tspan x="978" y="634">Coalition Intent</tspan><tspan x="978" y="647">&amp; Commitment</tspan></text></g>
<g id="n-govvsins"><text class="n"><tspan x="952" y="578">Gov't vs Ins</tspan></text></g>
<g id="n-percgov"><text class="n"><tspan x="1190" y="644">Perception</tspan><tspan x="1190" y="657">Of Gov't</tspan><tspan x="1190" y="668">Strength</tspan><tspan x="1190" y="679">&amp; Intent</tspan></text></g>
<g id="n-ability"><text class="n"><tspan x="1014" y="730">Ability to</tspan><tspan x="1014" y="742">Reconcile</tspan><tspan x="1014" y="754">Religious</tspan><tspan x="1014" y="766">Ideology,</tspan><tspan x="1014" y="778">Tribal</tspan><tspan x="1014" y="791">Structures</tspan><tspan x="1014" y="803">w/ Gov't</tspan><tspan x="1014" y="814">Path</tspan></text></g>
<g id="n-percsec"><text class="n"><tspan x="1054" y="853">Perceived</tspan><tspan x="1054" y="866">Security</tspan></text></g>
<g id="n-expect"><text class="n"><tspan x="1171" y="808">Expectations</tspan><tspan x="1171" y="821">for Security,</tspan><tspan x="1171" y="832">Services, &amp;</tspan><tspan x="1171" y="844">Employment</tspan></text></g>
<g id="n-satisf"><text class="n"><tspan x="1203" y="723">Satisfaction</tspan><tspan x="1203" y="734">w/ Gains in</tspan><tspan x="1203" y="746">Security, Services</tspan><tspan x="1203" y="758">&amp; Employment</tspan></text></g>
<g id="n-visible"><text class="n"><tspan x="1304" y="760">Visible Gains</tspan><tspan x="1304" y="772">In Security,</tspan><tspan x="1304" y="784">Services &amp;</tspan><tspan x="1304" y="795">Employment</tspan></text></g>
<g id="n-infrpolicy"><text class="n"><tspan x="1106" y="924">Infr, Services, Econ.</tspan><tspan x="1106" y="937">Policy &amp; Execution</tspan><tspan x="1106" y="949">/Perceived Fairness</tspan></text></g>
<g id="n-infradev"><text class="n"><tspan x="1417" y="734">Infrastructure</tspan><tspan x="1417" y="746">Dev. Adequacy</tspan><tspan x="1417" y="758">&amp; Sustainment</tspan></text></g>
<g id="n-private"><text class="n"><tspan x="1551" y="714">Private Sector</tspan><tspan x="1551" y="727">Workforce</tspan><tspan x="1551" y="738">Skill &amp; Avail</tspan></text></g>
<g id="n-legitagric"><text class="n"><tspan x="1639" y="699">Legit Agric</tspan><tspan x="1639" y="711">Production</tspan></text></g>
<g id="n-basicneeds"><text class="n"><tspan x="1716" y="752">Population</tspan><tspan x="1716" y="763">Basic Needs</tspan><tspan x="1716" y="776">Service Levels</tspan><tspan x="1716" y="787">&amp; Employment</tspan></text></g>
<g id="n-legitother"><text class="n"><tspan x="1500" y="812">Legit Other</tspan><tspan x="1500" y="824">Production</tspan><tspan x="1500" y="837">&amp; Services</tspan><tspan x="1500" y="848">Non-Agric</tspan></text></g>
<g id="n-civilian"><text class="n"><tspan x="1583" y="812">Civilian</tspan><tspan x="1583" y="824">Services</tspan><tspan x="1583" y="837">(SWET,</tspan><tspan x="1583" y="848">Healthcare,</tspan><tspan x="1583" y="860">Education)</tspan></text></g>
<g id="n-legitvs"><text class="n"><tspan x="1781" y="808">Legit vs. Illegit</tspan><tspan x="1781" y="820">Relative</tspan><tspan x="1781" y="832">Economic</tspan><tspan x="1781" y="844">Opportunity</tspan></text></g>
<g id="n-econactivity"><text class="n"><tspan x="1689" y="901">Economic</tspan><tspan x="1689" y="913">Activity,</tspan><tspan x="1689" y="925">Trade &amp;</tspan><tspan x="1689" y="937">Employment</tspan></text></g>
</g>

<g id="sectors">
<g id="s-coalition-capacity"><rect class="box" x="74" y="366" width="218" height="109"/><text class="tk" font-size="34"><tspan x="78" y="397">COALITION</tspan><tspan x="78" y="432">CAPACITY &amp;</tspan><tspan x="78" y="467">PRIORITIES</tspan></text></g>
<g id="s-coalition-domestic"><rect class="box" x="136" y="694" width="178" height="101"/><text class="tk" font-size="32"><tspan x="139" y="722">COALITION</tspan><tspan x="139" y="755">DOMESTIC</tspan><tspan x="139" y="787">SUPPORT</tspan></text></g>
<g id="s-overall-gov"><rect class="box" x="515" y="462" width="253" height="116"/><text class="tg" font-size="34"><tspan x="518" y="495">OVERALL</tspan><tspan x="518" y="530">GOVERNMENT</tspan><tspan x="518" y="565">CAPACITY</tspan></text></g>
<g id="s-population"><rect class="box" x="876" y="443" width="252" height="121"/><text class="tg" font-size="34"><tspan x="880" y="485">POPULATION</tspan><tspan x="880" y="520">CONDITIONS</tspan><tspan x="880" y="555">&amp; BELIEFS</tspan></text></g>
<g id="s-tribal"><rect class="box" x="462" y="735" width="260" height="85"/><text class="tg" font-size="34"><tspan x="466" y="773">TRIBAL</tspan><tspan x="466" y="808">GOVERNANCE</tspan></text></g>
<g id="s-popular"><rect class="box" x="1250" y="560" width="162" height="68"/><text class="tg" font-size="33"><tspan x="1253" y="587">POPULAR</tspan><tspan x="1253" y="620">SUPPORT</tspan></text></g>
<g id="s-insurgents"><rect class="box" x="1436" y="262" width="216" height="38"/><text class="tg" font-size="32" x="1440" y="288">INSURGENTS</text></g>
<g id="s-narcotics"><rect class="box" x="1696" y="318" width="196" height="38"/><text class="tg" font-size="31" x="1700" y="350">NARCOTICS</text></g>
<g id="s-outside"><rect class="box" x="1224" y="4" width="318" height="104"/><text class="tg" font-size="32"><tspan x="1228" y="35">OUTSIDE SUPPORT</tspan><tspan x="1228" y="67">TO INSURGENT</tspan><tspan x="1228" y="99">FACTIONS</tspan></text></g>
<g id="s-infrastructure"><rect class="box" x="1328" y="862" width="332" height="114"/><text class="tg" font-size="34"><tspan x="1332" y="897">INFRASTRUCTURE,</tspan><tspan x="1332" y="932">SERVICES &amp;</tspan><tspan x="1332" y="968">ECONOMY</tspan></text></g>
</g>
</svg>
